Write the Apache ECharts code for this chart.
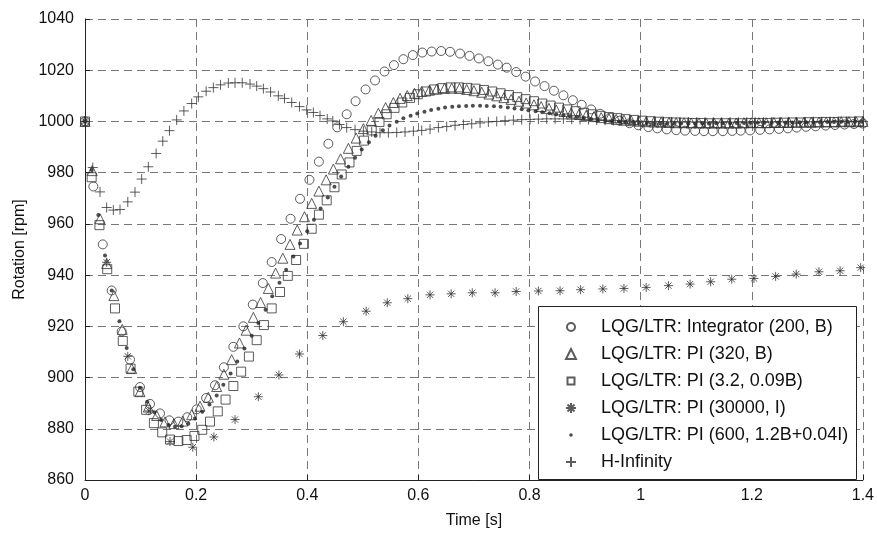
<!DOCTYPE html>
<html>
<head>
<meta charset="utf-8">
<script src="https://cdn.jsdelivr.net/npm/echarts@6/dist/echarts.min.js"></script>
<style>html,body{margin:0;padding:0;background:#fff}#c{width:877px;height:534px}</style>
</head>
<body>
<div id="c"></div>
<script>
// ---- data ----
const xTicks = [0, 0.2, 0.4, 0.6, 0.8, 1, 1.2, 1.4];
const yTicks = [860, 880, 900, 920, 940, 960, 980, 1000, 1020, 1040];
const seriesNames = ['LQG/LTR: Integrator (200, B)', 'LQG/LTR: PI (320, B)', 'LQG/LTR: PI (3.2, 0.09B)', 'LQG/LTR: PI (30000, I)', 'LQG/LTR: PI (600, 1.2B+0.04I)', 'H-Infinity'];

const integT = [0,0.015,0.032,0.048,0.066,0.081,0.099,0.117,0.135,0.152,0.168,0.184,0.201,0.218,0.234,0.250,0.267,0.285,0.302,0.320,0.336,0.353,0.370,0.387,0.404,0.421,0.438,0.454,0.471,0.487,0.505,0.522,0.539,0.556,0.573,0.590,0.607,0.624,0.641,0.657,0.675,0.692,0.709,0.726,0.743,0.759,0.776,0.793,0.810,0.827,0.844,0.861,0.878,0.894,0.911,0.927,0.945,0.962,0.980,0.996,1.014,1.030,1.047,1.064,1.080,1.098,1.114,1.130,1.148,1.165,1.180,1.197,1.215,1.232,1.249,1.265,1.281,1.298,1.315,1.333,1.350,1.367,1.384,1.400];
const integV = [1000,974.6,952,934,918,907,896.3,889.7,886,883.3,882.8,884.5,887.6,892,897,904,912,920,928.5,936.9,945.1,954.1,962,969.8,977.2,984.3,991.3,997.7,1002.8,1007.9,1012.5,1016,1019.5,1022,1024.3,1025.9,1026.9,1027.3,1027.5,1027.2,1026.5,1025.6,1024.6,1023.5,1022.2,1021,1019.3,1017.5,1015.6,1013.8,1012,1010.2,1008.3,1006.5,1004.7,1003,1001.5,1000.3,999.3,998.5,997.8,997.3,996.9,996.6,996.4,996.3,996.2,996.2,996.2,996.3,996.4,996.5,996.7,996.9,997.1,997.3,997.6,997.9,998.1,998.4,998.6,998.8,999,999.2];

const pi320T = [0,0.013,0.027,0.039,0.052,0.067,0.084,0.099,0.114,0.129,0.144,0.16,0.176,0.192,0.207,0.222,0.237,0.25,0.264,0.278,0.29,0.303,0.316,0.33,0.343,0.356,0.369,0.382,0.395,0.408,0.421,0.434,0.447,0.46,0.474,0.488,0.501,0.515,0.528,0.541,0.555,0.567,0.58,0.593,0.606,0.62,0.633,0.647,0.66,0.674,0.687,0.7,0.714,0.727,0.741,0.754,0.767,0.781,0.794,0.808,0.821,0.835,0.848,0.862,0.875,0.889,0.902,0.916,0.929,0.943,0.956,0.97,0.983,0.997,1.01,1.024,1.037,1.051,1.064,1.078,1.091,1.105,1.118,1.132,1.145,1.159,1.172,1.186,1.199,1.213,1.226,1.24,1.253,1.267,1.28,1.294,1.307,1.321,1.334,1.348,1.361,1.375,1.388,1.4];
const pi320V = [1000,980.8,962,944.5,932,918.8,903.5,894.5,888.5,885.2,882.7,882,883,885.5,888.8,892.3,896.5,901.3,907,913.5,918.5,923.5,929.3,934.8,940.8,946.6,952,957.6,962.8,968,972.8,977.2,981.4,985.4,989.5,993.5,997.2,1000.4,1003.2,1005.4,1007.4,1009,1010.1,1011,1011.7,1012.2,1012.6,1012.9,1013,1012.9,1012.5,1012,1011.4,1010.7,1010,1009.3,1008.6,1007.9,1007.2,1006.5,1005.8,1005.1,1004.5,1003.9,1003.3,1002.8,1002.3,1001.9,1001.5,1001.1,1000.8,1000.5,1000.3,1000.1,999.9,999.8,999.7,999.6,999.5,999.5,999.4,999.4,999.4,999.4,999.4,999.4,999.4,999.5,999.5,999.5,999.5,999.6,999.6,999.6,999.7,999.7,999.7,999.8,999.8,999.8,999.9,999.9,999.9,1000];

const pi32T = [0,0.012,0.026,0.04,0.054,0.068,0.082,0.096,0.11,0.124,0.139,0.153,0.168,0.183,0.197,0.211,0.225,0.239,0.253,0.267,0.281,0.295,0.309,0.322,0.336,0.351,0.365,0.38,0.394,0.408,0.421,0.435,0.449,0.462,0.476,0.489,0.502,0.516,0.53,0.543,0.557,0.571,0.585,0.599,0.614,0.628,0.643,0.658,0.673,0.688,0.703,0.718,0.733,0.748,0.763,0.778,0.793,0.808,0.823,0.838,0.853,0.868,0.883,0.898,0.913,0.928,0.943,0.958,0.973,0.988,1.003,1.018,1.033,1.048,1.063,1.078,1.093,1.108,1.123,1.138,1.153,1.168,1.183,1.198,1.213,1.228,1.243,1.258,1.273,1.288,1.303,1.318,1.333,1.348,1.363,1.378,1.393];
const pi32V = [1000,978.2,959.5,942.3,927,914.3,903.5,894.5,887.4,882.2,878.6,875.8,875.2,875.6,877.2,879.6,882.8,886.8,891.4,896.7,902.3,908.2,914.6,920.5,927,933.4,939.7,945.9,952.2,958.1,963.6,969.2,974.3,979.3,984,988.5,992.5,996.5,999.8,1002.8,1005.3,1007.4,1009.2,1010.6,1011.7,1012.5,1013,1013.3,1013.3,1013.1,1012.8,1012.3,1011.7,1011,1010.3,1009.5,1008.7,1007.9,1007,1006.2,1005.4,1004.7,1004,1003.4,1002.8,1002.2,1001.7,1001.3,1000.9,1000.6,1000.3,1000.1,999.9,999.7,999.6,999.5,999.4,999.4,999.3,999.3,999.3,999.3,999.3,999.4,999.4,999.4,999.5,999.5,999.6,999.6,999.7,999.7,999.8,999.8,999.9,999.9,1000];

const pi30000T = [0,0.039,0.077,0.115,0.153,0.194,0.232,0.27,0.312,0.349,0.386,0.428,0.465,0.506,0.544,0.581,0.621,0.659,0.697,0.738,0.776,0.816,0.855,0.892,0.932,0.97,1.01,1.05,1.089,1.126,1.164,1.204,1.243,1.28,1.321,1.359,1.396];
const pi30000V = [1000,945,908.3,887,875,872.8,876.8,883.6,892.5,901,909.2,916.4,921.8,925.9,929.2,930.8,932.3,932.7,933.1,933.1,933.6,933.8,933.9,934.3,934.6,934.8,935.2,935.9,936.5,937.4,938.4,938.7,939.5,940.4,941.3,941.7,942.9];

const pi600T = [0,0.012,0.024,0.036,0.048,0.062,0.075,0.087,0.099,0.112,0.125,0.137,0.15,0.162,0.174,0.186,0.198,0.211,0.224,0.237,0.249,0.262,0.274,0.287,0.3,0.312,0.325,0.337,0.35,0.362,0.375,0.387,0.4,0.412,0.424,0.437,0.449,0.461,0.474,0.486,0.498,0.511,0.523,0.536,0.548,0.561,0.573,0.586,0.598,0.611,0.623,0.636,0.648,0.661,0.673,0.686,0.698,0.711,0.723,0.736,0.748,0.761,0.773,0.786,0.798,0.811,0.823,0.836,0.848,0.861,0.873,0.886,0.898,0.911,0.923,0.936,0.948,0.961,0.973,0.986,0.998,1.011,1.023,1.036,1.048,1.061,1.073,1.086,1.098,1.111,1.123,1.136,1.148,1.161,1.173,1.186,1.198,1.211,1.223,1.236,1.248,1.261,1.273,1.286,1.298,1.311,1.323,1.336,1.348,1.361,1.373,1.386,1.398];
const pi600V = [1000,981,963.5,947.7,934,922,911.5,903.2,896,890.6,886.5,883.4,881.5,880.8,881,882,884,886.6,889.5,893,897.2,901.6,906.3,911.3,916.3,921.3,926.5,931.7,937,942.1,947.3,952.3,957.1,961.6,966,970.3,974.5,978.5,982.3,985.8,989,991.9,994.4,996.6,998.4,999.9,1001.2,1002.2,1003.1,1003.8,1004.5,1005,1005.4,1005.7,1005.9,1006,1006.1,1006.1,1006,1005.9,1005.7,1005.4,1005.1,1004.8,1004.4,1004,1003.6,1003.2,1002.8,1002.4,1002,1001.7,1001.3,1001,1000.7,1000.5,1000.2,1000,999.8,999.7,999.5,999.4,999.3,999.3,999.2,999.2,999.2,999.2,999.2,999.2,999.2,999.3,999.3,999.3,999.4,999.4,999.4,999.5,999.5,999.5,999.6,999.6,999.6,999.7,999.7,999.7,999.8,999.8,999.8,999.9,999.9,999.9,999.9];

const hinfT = [0,0.014,0.027,0.039,0.051,0.063,0.077,0.09,0.102,0.114,0.128,0.14,0.152,0.165,0.178,0.192,0.204,0.218,0.231,0.244,0.258,0.27,0.283,0.297,0.309,0.321,0.334,0.348,0.359,0.372,0.386,0.399,0.411,0.423,0.436,0.446,0.458,0.471,0.486,0.501,0.516,0.531,0.546,0.561,0.576,0.591,0.606,0.621,0.636,0.651,0.666,0.681,0.696,0.711,0.726,0.741,0.756,0.771,0.786,0.801,0.816,0.831,0.846,0.861,0.876,0.891,0.906,0.921,0.936,0.951,0.966,0.981,0.996,1.011,1.026,1.041,1.056,1.071,1.086,1.101,1.116,1.131,1.146,1.161,1.176,1.191,1.206,1.221,1.236,1.251,1.266,1.281,1.296,1.311,1.326,1.341,1.356,1.371,1.386,1.4];
const hinfV = [1000,982,972.5,966.4,965.4,965.6,968.6,972.4,977.5,982.3,987.5,992.3,996.4,1000.6,1004.1,1007,1009.6,1011.8,1013.2,1014.3,1015,1015.1,1015.1,1014.6,1013.8,1012.8,1011.5,1010,1009,1007.4,1005.8,1004.5,1003.5,1002.3,1001,1000.2,998.8,997.6,996.8,996.2,995.9,995.6,995.6,995.7,995.9,996.2,996.5,997,997.6,998,998.5,998.8,999.1,999.4,999.8,1000,1000.3,1000.5,1000.7,1000.8,1000.9,1001,1001,1001,1000.9,1000.8,1000.7,1000.6,1000.5,1000.4,1000.3,1000.2,1000.1,1000,999.9,999.9,999.8,999.8,999.8,999.7,999.7,999.7,999.7,999.7,999.7,999.7,999.7,999.7,999.8,999.8,999.8,999.8,999.8,999.9,999.9,999.9,999.9,999.9,1000,1000];

// ---- styles ----
const INK = '#333';
const plusPath = 'path://M5,0L5,10M0,5L10,5';
const starPath = 'path://M5,0L5,10M0,5L10,5M1.5,1.5L8.5,8.5M8.5,1.5L1.5,8.5';
// legend icons: a 10x10 box with a smaller glyph inside (bbox set by moveTo corners)
const legCircle = 'path://M0,0M10,10M1,5a4,4 0 1,1 8,0a4,4 0 1,1 -8,0z';
const legRect = 'path://M0,0M10,10M1.5,1.5L8.5,1.5L8.5,8.5L1.5,8.5z';
const legDot = 'path://M0,0M10,10M3.2,5a1.8,1.8 0 1,1 3.6,0a1.8,1.8 0 1,1 -3.6,0z';
const pairs = (t, v) => t.map((x, i) => [x, v[i]]);

const hollow = {color: 'transparent', borderColor: INK, borderWidth: 1};
const defs = [
  {name: seriesNames[0], data: pairs(integT, integV), symbol: 'circle', symbolSize: 9, itemStyle: hollow},
  {name: seriesNames[1], data: pairs(pi320T, pi320V), symbol: 'triangle', symbolSize: 10, itemStyle: hollow},
  {name: seriesNames[2], data: pairs(pi32T, pi32V), symbol: 'rect', symbolSize: 9, itemStyle: hollow},
  {name: seriesNames[3], data: pairs(pi30000T, pi30000V), symbol: starPath, symbolSize: 9, itemStyle: hollow},
  {name: seriesNames[4], data: pairs(pi600T, pi600V), symbol: 'circle', symbolSize: 4, itemStyle: {color: '#222', borderWidth: 0}},
  {name: seriesNames[5], data: pairs(hinfT, hinfV), symbol: plusPath, symbolSize: 10, itemStyle: hollow}
];
const legendIcons = [legCircle, 'triangle', legRect, starPath, legDot, plusPath];

const chart = echarts.init(document.getElementById('c'), null, {renderer: 'canvas'});
const FONT = 'Liberation Sans';
chart.setOption({
  animation: false,
  backgroundColor: '#fff',
  grid: {left: 85, right: 14, top: 19, bottom: 47, containLabel: false},
  xAxis: {
    type: 'value', min: 0, max: 1.4, interval: 0.2,
    name: 'Time [s]', nameLocation: 'middle', nameGap: 33,
    nameTextStyle: {fontFamily: FONT, fontSize: 16, color: '#111'},
    axisLine: {lineStyle: {color: '#222', width: 1}},
    axisTick: {inside: true, length: 5, lineStyle: {color: '#222'}},
    axisLabel: {fontFamily: FONT, fontSize: 16, color: '#111', margin: 8,
      formatter: v => { const s = xTicks.find(t => Math.abs(t - v) < 1e-6); return s === undefined ? '' : String(s); }},
    splitLine: {show: true, lineStyle: {color: '#777', type: [8, 5], width: 1}}
  },
  yAxis: {
    type: 'value', min: 860, max: 1040, interval: 20,
    name: 'Rotation [rpm]', nameLocation: 'middle', nameGap: 55, nameRotate: 90,
    nameTextStyle: {fontFamily: FONT, fontSize: 16, color: '#111'},
    axisLine: {show: true, lineStyle: {color: '#222', width: 1}},
    axisTick: {show: true, inside: true, length: 5, lineStyle: {color: '#222'}},
    axisLabel: {fontFamily: FONT, fontSize: 16, color: '#111', margin: 11,
      formatter: v => yTicks.includes(v) ? String(v) : ''},
    splitLine: {show: true, lineStyle: {color: '#777', type: [8, 5], width: 1}}
  },
  graphic: [{
    type: 'rect', z: 50,
    shape: {x: 538.5, y: 306.5, width: 318, height: 173},
    style: {fill: '#fff', stroke: '#222', lineWidth: 1}
  }],
  legend: {
    z: 60, orient: 'vertical', left: 565, top: 318, padding: 0,
    itemWidth: 10, itemHeight: 10, itemGap: 9,
    data: seriesNames.map((n, i) => ({name: n, icon: legendIcons[i]})),
    textStyle: {fontFamily: FONT, fontSize: 18, color: '#111', lineHeight: 18, padding: [0, 0, 0, 20]}
  },
  series: defs.map(d => Object.assign({type: 'scatter', clip: false, emphasis: {disabled: true}}, d))
});
</script>
</body>
</html>
